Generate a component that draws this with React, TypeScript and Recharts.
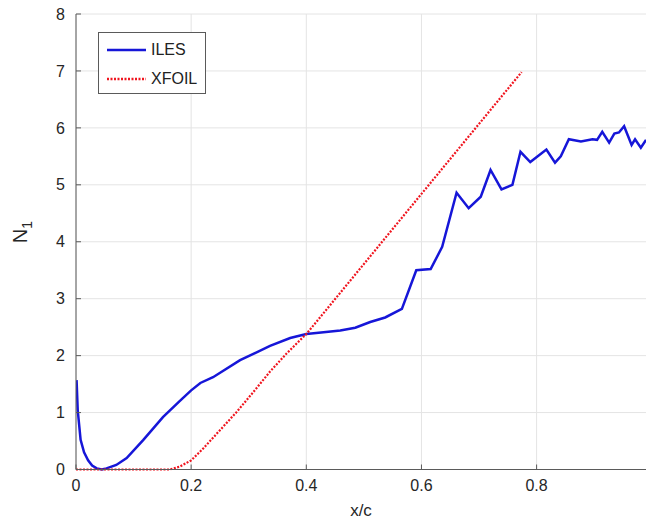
import { LineChart, Line, XAxis, YAxis, CartesianGrid, Legend } from "recharts";

// ILES curve (x/c, N1)
const ilesX = [
  0.001, 0.003, 0.008, 0.014, 0.021, 0.028, 0.036, 0.045, 0.053, 0.07, 0.088, 0.117, 0.151, 0.18, 0.2, 0.216,
  0.238, 0.285, 0.337, 0.372, 0.4, 0.43, 0.459, 0.485, 0.511, 0.537, 0.566, 0.591, 0.616, 0.636, 0.661, 0.682,
  0.703, 0.72, 0.739, 0.758, 0.772, 0.789, 0.817, 0.832, 0.842, 0.856, 0.877, 0.897, 0.905, 0.914, 0.926, 0.935,
  0.943, 0.952, 0.965, 0.971, 0.981, 0.99,
];
const ilesN = [
  1.57, 1.04, 0.52, 0.3, 0.16, 0.07, 0.02, 0.0, 0.02, 0.08, 0.2, 0.52, 0.92, 1.2, 1.39, 1.52,
  1.62, 1.92, 2.17, 2.31, 2.38, 2.41, 2.44, 2.49, 2.59, 2.67, 2.82, 3.5, 3.52, 3.91, 4.86, 4.59,
  4.79, 5.26, 4.92, 5.0, 5.58, 5.4, 5.62, 5.39, 5.5, 5.8, 5.76, 5.8, 5.79, 5.93, 5.74, 5.9,
  5.92, 6.03, 5.7, 5.8, 5.65, 5.79,
];

// XFOIL prediction
const xfoilX = [0, 0.1, 0.163, 0.18, 0.2, 0.221, 0.25, 0.279, 0.308, 0.337, 0.366, 0.401, 0.6, 0.774];
const xfoilN = [0, 0, 0, 0.05, 0.16, 0.37, 0.69, 1.01, 1.36, 1.72, 2.04, 2.39, 4.84, 6.98];

const xTicks = [0, 0.2, 0.4, 0.6, 0.8];
const yTicks = [0, 1, 2, 3, 4, 5, 6, 7, 8];

const ilesData = ilesX.map((x, i) => ({ x, n: ilesN[i] }));
const xfoilData = xfoilX.map((x, i) => ({ x, n: xfoilN[i] }));

const BLUE = "#1616d8";
const RED = "#f0141e";
const AXIS = "#5a5a5a";
const FONT = "'Liberation Sans', Arial, sans-serif";

const LegendBox = () => (
  <div
    style={{
      width: 108,
      height: 62,
      boxSizing: "border-box",
      border: `1px solid ${AXIS}`,
      background: "#fff",
      fontFamily: FONT,
      fontSize: 16,
      color: "#222",
    }}
  >
    {[
      { name: "ILES", color: BLUE, dash: undefined },
      { name: "XFOIL", color: RED, dash: "2 1.5" },
    ].map((s, i) => (
      <div key={s.name} style={{ position: "absolute", left: 9, top: i === 0 ? 8 : 37, display: "flex", alignItems: "center" }}>
        <svg width={40} height={20}>
          <line x1={0} y1={10} x2={39} y2={10} stroke={s.color} strokeWidth={2.5} strokeDasharray={s.dash} />
        </svg>
        <span style={{ marginLeft: 4 }}>{s.name}</span>
      </div>
    ))}
  </div>
);

export default function App() {
  const tickStyle = { fontSize: 16, fill: "#262626", fontFamily: FONT };
  return (
    <div style={{ position: "absolute", left: 0, top: 0 }}>
      <LineChart width={647} height={521} margin={{ top: 14, right: 1, bottom: 0, left: 0 }}>
        <CartesianGrid stroke="#e4e4e4" horizontalValues={yTicks} verticalValues={xTicks} />
        <XAxis
          dataKey="x"
          type="number"
          domain={[0, 0.99]}
          ticks={xTicks}
          allowDataOverflow
          height={51.5}
          stroke={AXIS}
          tickSize={-5}
          tickMargin={15}
          tick={tickStyle}
          label={{ value: "x/c", position: "insideBottom", offset: 5, style: { fontSize: 17, fill: "#262626", fontFamily: FONT } }}
        />
        <XAxis
          xAxisId="top"
          orientation="top"
          dataKey="x"
          type="number"
          domain={[0, 0.99]}
          ticks={xTicks}
          height={0}
          stroke={AXIS}
          tickSize={-5}
          tick={false}
        />
        <YAxis
          type="number"
          domain={[0, 8]}
          ticks={yTicks}
          width={76}
          stroke={AXIS}
          tickSize={-5}
          tickMargin={16}
          tick={tickStyle}
          label={{
            content: () => (
              <text x={27} y={232} transform="rotate(-90 27 232)" textAnchor="middle" fontSize={20} fill="#262626" fontFamily={FONT}>
                N<tspan dy={5} fontSize={14}>1</tspan>
              </text>
            ),
          }}
        />
        <YAxis
          yAxisId="right"
          orientation="right"
          type="number"
          domain={[0, 8]}
          ticks={yTicks}
          width={0}
          stroke={AXIS}
          tickSize={-5}
          tick={false}
        />
        <Legend
          layout="vertical"
          align="center"
          verticalAlign="middle"
          content={() => <LegendBox />}
          wrapperStyle={{ left: 98, top: 32, width: 108, height: 62 }}
        />
        <Line
          data={ilesData}
          dataKey="n"
          name="ILES"
          type="linear"
          stroke={BLUE}
          strokeWidth={2.5}
          dot={false}
          isAnimationActive={false}
        />
        <Line
          data={xfoilData}
          dataKey="n"
          name="XFOIL"
          type="linear"
          stroke={RED}
          strokeWidth={2.2}
          strokeDasharray="2 1.5"
          dot={false}
          isAnimationActive={false}
        />
      </LineChart>
    </div>
  );
}
